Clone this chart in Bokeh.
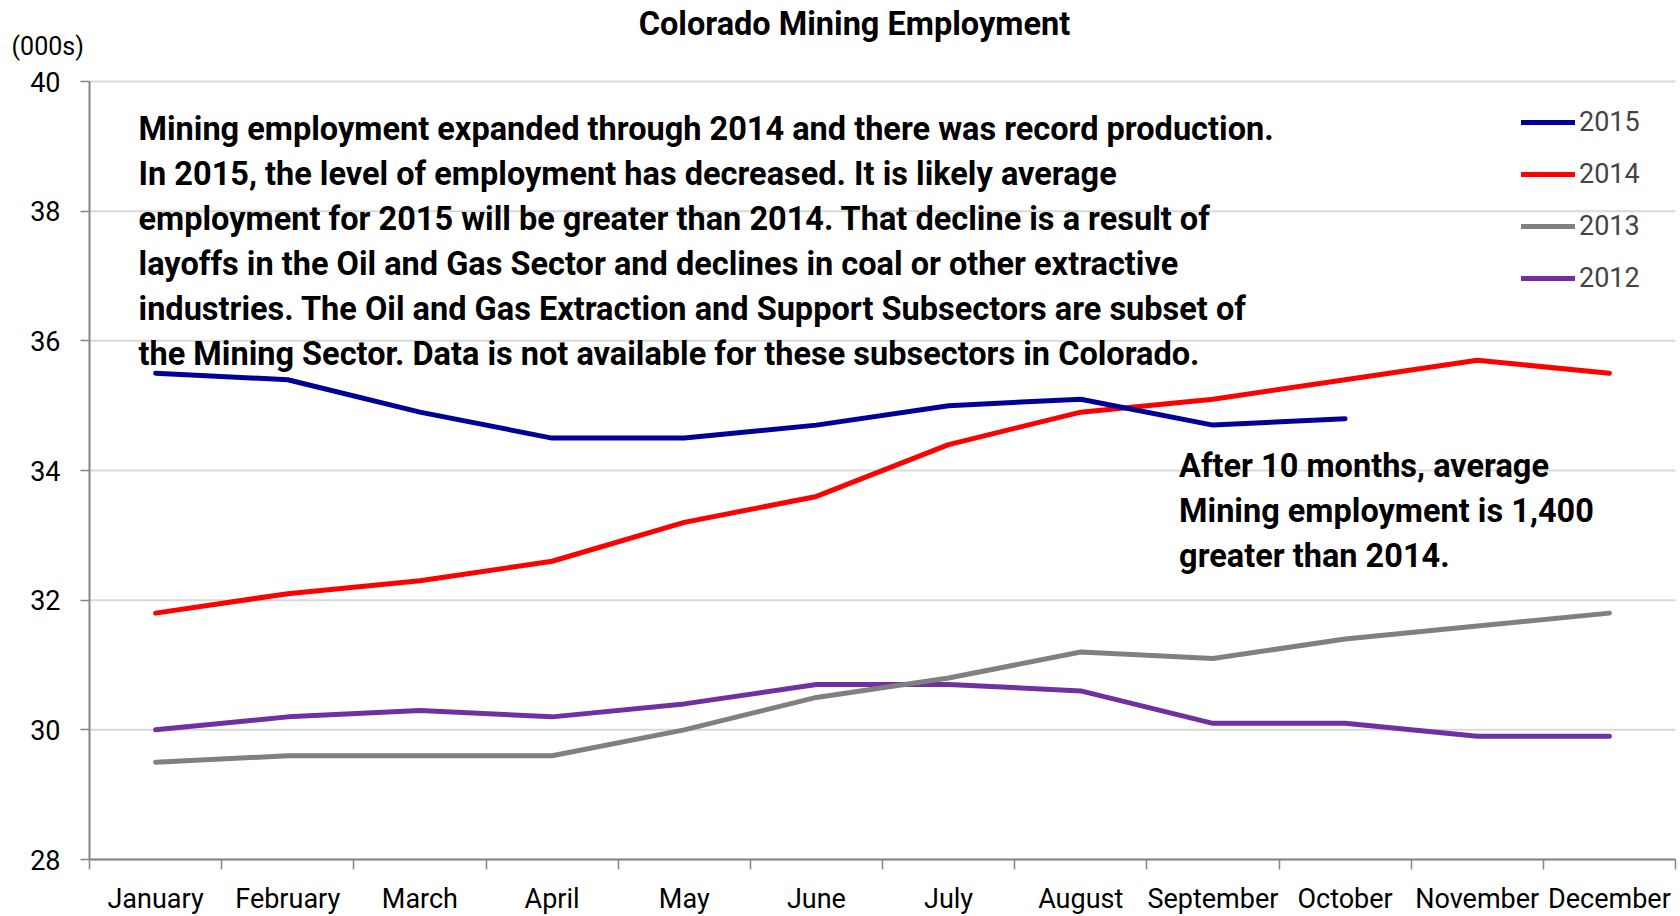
from bokeh.plotting import figure
from bokeh.models import Range1d, FixedTicker, Legend, LegendItem, Label
from bokeh.embed import file_html
from bokeh.resources import INLINE

months = ["January", "February", "March", "April", "May", "June", "July",
          "August", "September", "October", "November", "December"]
y2015 = [35.5, 35.4, 34.9, 34.5, 34.5, 34.7, 35.0, 35.1, 34.7, 34.8]
y2014 = [31.8, 32.1, 32.3, 32.6, 33.2, 33.6, 34.4, 34.9, 35.1, 35.4, 35.7, 35.5]
y2013 = [29.5, 29.6, 29.6, 29.6, 30.0, 30.5, 30.8, 31.2, 31.1, 31.4, 31.6, 31.8]
y2012 = [30.0, 30.2, 30.3, 30.2, 30.4, 30.7, 30.7, 30.6, 30.1, 30.1, 29.9, 29.9]
series_names = ["2015", "2014", "2013", "2012"]
series_values = [y2015, y2014, y2013, y2012]
series_colors = ["#000099", "#ff0000", "#808080", "#7030a0"]
y_ticks = [28, 30, 32, 34, 36, 38, 40]

title_text = "Colorado Mining Employment"
unit_text = "(000s)"
note_text = ("Mining employment expanded through 2014 and there was record production.\n"
             "In 2015, the level of employment has decreased. It is likely average\n"
             "employment for 2015 will be greater than 2014. That decline is a result of\n"
             "layoffs in the Oil and Gas Sector and declines in coal or other extractive\n"
             "industries. The Oil and Gas Extraction and Support Subsectors are subset of\n"
             "the Mining Sector. Data is not available for these subsectors in Colorado.")
note2_text = ("After 10 months, average\n"
              "Mining employment is 1,400\n"
              "greater than 2014.")

FONT = "Roboto"
W, H = 1678, 914
# plot area: x 0..12 -> px 89..1675 ; y 28..40 -> px 859..81
px_x = (1675 - 89) / 12.0
px_y = (859 - 81) / 12.0
x0 = -89 / px_x
x1 = 12 + (W - 1675) / px_x
y1 = 40 + 81 / px_y
y0 = 28 - (H - 859) / px_y

p = figure(width=W, height=H, output_backend="svg", toolbar_location=None,
           x_range=Range1d(x0, x1), y_range=Range1d(y0, y1),
           min_border_left=0, min_border_right=0, min_border_top=0,
           min_border_bottom=0)
p.outline_line_color = None
p.background_fill_color = "white"
p.border_fill_color = "white"

centers = [i + 0.5 for i in range(len(months))]

# gridlines (horizontal, only across the plotting area)
p.segment(x0=[0] * len(y_ticks), y0=y_ticks, x1=[12] * len(y_ticks), y1=y_ticks,
          line_color="#d9d9d9", line_width=2)

# axes fixed at the plot area edges
p.xaxis.fixed_location = 28
p.yaxis.fixed_location = 0
p.xaxis.bounds = (0, 12)
p.yaxis.bounds = (28, 40)
p.xaxis.ticker = FixedTicker(ticks=centers, minor_ticks=list(range(len(months) + 1)))
p.xaxis.major_label_overrides = {c: m for c, m in zip(centers, months)}
p.xaxis.major_tick_out = 0
p.xaxis.major_tick_in = 0
p.xaxis.minor_tick_out = 10
p.xaxis.minor_tick_in = 0
p.xaxis.minor_tick_line_color = "#868686"
p.xaxis.minor_tick_line_width = 1.5
p.xaxis.major_label_standoff = 13
p.yaxis.ticker = FixedTicker(ticks=y_ticks)
p.yaxis.major_tick_out = 9
p.yaxis.major_tick_in = 0
p.yaxis.minor_tick_out = 0
p.yaxis.minor_tick_in = 0
p.yaxis.major_tick_line_color = "#868686"
p.yaxis.major_tick_line_width = 1.5
p.yaxis.major_label_standoff = 20
for ax in (p.xaxis, p.yaxis):
    ax.axis_line_color = "#868686"
    ax.axis_line_width = 2
    ax.major_label_text_font = FONT
    ax.major_label_text_font_size = "27px"
    ax.major_label_text_color = "black"
p.xgrid.visible = False
p.ygrid.visible = False

renderers = {}
for name, vals, col in reversed(list(zip(series_names, series_values, series_colors))):
    r = p.line(centers[:len(vals)], vals, line_color=col, line_width=5,
               line_cap="round", line_join="round")
    renderers[name] = r
items = [LegendItem(label=name, renderers=[renderers[name]]) for name in series_names]

legend = Legend(items=items, location=(1521, 620), orientation="vertical",
                padding=0, margin=0, spacing=20, label_height=32, glyph_height=32,
                glyph_width=54, label_standoff=4,
                background_fill_alpha=0, border_line_alpha=0,
                label_text_font=FONT, label_text_font_size="27px")
p.add_layout(legend, "center")

p.add_layout(Label(x=5.788, y=40.885, text=title_text, text_align="center",
                   text_baseline="middle", text_font=FONT, text_font_size="32.5px",
                   text_font_style="bold", text_color="black"))
p.add_layout(Label(x=-0.59, y=40.54, text=unit_text, text_align="left",
                   text_baseline="middle", text_font=FONT, text_font_size="25px",
                   text_color="black"))
p.add_layout(Label(x=0.371, y=39.555, text=note_text, text_align="left",
                   text_baseline="top", text_font=FONT, text_font_size="32.5px",
                   text_font_style="bold", text_color="black", text_line_height=1.182))
p.add_layout(Label(x=8.244, y=34.365, text=note2_text, text_align="left",
                   text_baseline="top", text_font=FONT, text_font_size="32.5px",
                   text_font_style="bold", text_color="black", text_line_height=1.182))

open("out.html", "w").write(file_html(p, INLINE))
